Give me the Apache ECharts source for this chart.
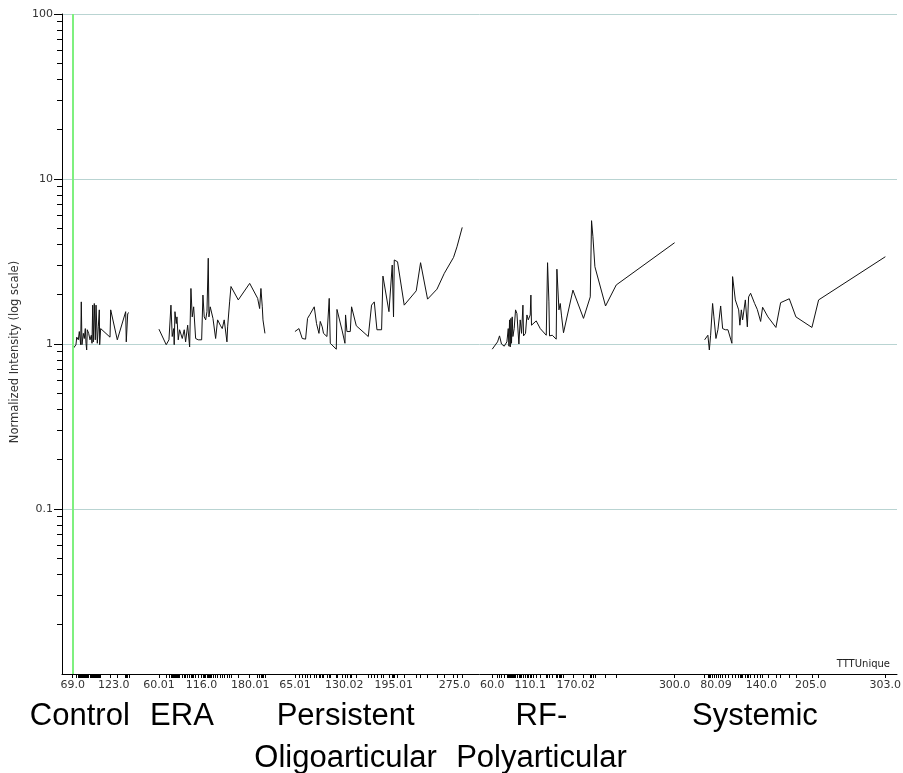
<!DOCTYPE html>
<html><head><meta charset="utf-8">
<script src="https://cdn.jsdelivr.net/npm/echarts@6/dist/echarts.min.js"></script>
<style>html,body{margin:0;padding:0;background:#fff}#c{width:903px;height:773px}</style>
</head><body><div id="c"></div>
<script>
// ---------------- data ----------------
const groupNames = ['Control', 'ERA', 'Persistent\nOligoarticular', 'RF-\nPolyarticular', 'Systemic'];

const ctrlX = [69.0, 73.3, 74.3, 76.4, 77.7, 79.5, 80.3, 81.2, 83.0, 84.3, 85.6, 86.5, 87.4, 88.2, 90.0, 91.8, 93.5, 94.4, 95.3, 96.1, 97.4, 98.7, 99.7, 101.4, 102.7, 104.0, 104.5, 105.8, 118.1, 119.0, 127.7, 138.7, 139.5, 141.4, 143.0];
const ctrlY = [0.93, 0.99, 1.10, 1.06, 1.19, 0.99, 1.80, 0.99, 1.16, 1.08, 1.24, 1.01, 0.92, 1.22, 1.16, 1.06, 1.13, 1.01, 1.72, 1.03, 1.76, 1.06, 1.72, 1.01, 1.27, 1.61, 0.99, 1.24, 1.10, 1.61, 1.06, 1.57, 1.03, 1.53, 1.55];

const eraX = [60.01, 69.6, 73.2, 75.8, 77.5, 79.4, 80.1, 81.1, 82.8, 83.7, 85.4, 87.2, 90.7, 93.3, 95.1, 97.8, 100.4, 102.1, 103.8, 105.7, 108.3, 111.7, 116.2, 117.9, 119.6, 121.5, 123.2, 124.9, 125.8, 127.5, 129.4, 131.1, 134.6, 137.2, 140.7, 143.3, 145.9, 149.5, 150.4, 153.0, 154.8, 164.4, 179.4, 189.9, 192.5, 194.2, 196.0, 196.9, 199.5];
const eraY = [1.23, 0.99, 1.06, 1.72, 1.11, 1.24, 0.99, 1.57, 1.33, 1.46, 1.06, 1.22, 1.08, 1.22, 1.03, 1.30, 0.96, 2.17, 1.46, 1.68, 1.08, 1.06, 1.06, 1.98, 1.46, 1.40, 1.57, 3.31, 1.46, 1.68, 1.72, 1.43, 1.08, 1.40, 1.30, 1.24, 1.40, 1.03, 1.27, 1.80, 2.23, 1.85, 2.33, 1.89, 1.64, 2.17, 1.68, 1.40, 1.16];

const persX = [65.01, 70.3, 74.6, 79.0, 81.6, 84.7, 90.4, 93.4, 96.6, 98.3, 100.9, 102.6, 107.1, 110.1, 111.5, 119.4, 120.3, 127.2, 130.8, 131.6, 133.4, 137.8, 139.5, 145.7, 161.5, 165.8, 169.4, 172.9, 179.0, 180.8, 188.7, 193.0, 194.7, 195.7, 200.0, 208.8, 224.6, 230.3, 239.5, 251.9, 261.5, 273.7, 278.2, 285.1];
const persY = [1.19, 1.24, 1.08, 1.07, 1.43, 1.51, 1.68, 1.33, 1.16, 1.37, 1.27, 1.16, 1.11, 1.89, 1.01, 0.93, 1.62, 1.20, 1.01, 1.50, 1.19, 1.19, 1.68, 1.29, 1.11, 1.72, 1.80, 1.22, 1.22, 2.58, 1.57, 3.01, 1.46, 3.23, 3.15, 1.72, 2.10, 3.11, 1.87, 2.15, 2.68, 3.35, 3.88, 5.09];

const rfX = [60.0, 67.0, 69.6, 72.2, 75.8, 79.3, 81.1, 82.0, 82.8, 83.7, 84.6, 85.4, 86.3, 87.2, 88.9, 90.7, 92.5, 95.1, 96.8, 98.6, 100.4, 101.2, 103.8, 105.7, 107.4, 110.0, 110.9, 111.7, 114.3, 117.9, 123.2, 131.1, 132.8, 134.6, 135.4, 139.0, 144.2, 145.1, 147.8, 149.5, 151.2, 153.8, 166.2, 180.1, 189.0, 190.7, 192.5, 195.1, 209.1, 223.2, 300.0];
const rfY = [0.93, 1.03, 1.12, 1.00, 0.97, 1.03, 1.24, 0.97, 1.40, 0.96, 1.43, 1.01, 1.46, 1.11, 1.24, 1.61, 1.53, 1.00, 1.40, 1.16, 1.72, 1.12, 1.16, 1.50, 1.40, 1.50, 1.98, 1.30, 1.32, 1.38, 1.24, 1.13, 3.11, 1.80, 1.12, 1.13, 1.07, 2.84, 1.61, 1.76, 1.48, 1.17, 2.12, 1.43, 1.93, 5.59, 4.47, 2.94, 1.70, 2.28, 4.11];

const sysX = [65.2, 69.5, 71.4, 73.1, 75.7, 77.4, 80.1, 82.7, 86.3, 88.9, 92.4, 95.9, 101.1, 102.0, 105.6, 110.0, 111.6, 113.5, 115.2, 118.8, 121.4, 123.1, 125.7, 131.0, 134.5, 138.9, 141.5, 148.5, 159.0, 165.2, 176.6, 185.3, 206.4, 215.2, 303.0];
const sysY = [1.06, 1.13, 0.92, 1.13, 1.76, 1.46, 1.08, 1.22, 1.70, 1.24, 1.22, 1.22, 1.01, 2.56, 1.85, 1.61, 1.30, 1.61, 1.40, 1.85, 1.27, 1.93, 2.03, 1.76, 1.62, 1.37, 1.67, 1.46, 1.26, 1.78, 1.88, 1.46, 1.26, 1.85, 3.38];

const ctrlTicks = ['69.0', '123.0'];
const eraTicks = ['60.01', '116.0', '180.01'];
const persTicks = ['65.01', '130.02', '195.01', '275.0'];
const rfTicks = ['60.0', '110.1', '170.02', '300.0'];
const sysTicks = ['80.09', '140.0', '205.0', '303.0'];

const yMinorTicks = [0.02, 0.03, 0.04, 0.05, 0.06, 0.07, 0.08, 0.09, 0.2, 0.3, 0.4, 0.5, 0.6, 0.7, 0.8, 0.9, 2, 3, 4, 5, 6, 7, 8, 9, 20, 30, 40, 50, 60, 70, 80, 90];
const markerX = 69.0;

// ---------------- layout ----------------
const groups = [
  {x: ctrlX, y: ctrlY, ticks: ctrlTicks, shift: -21},
  {x: eraX, y: eraY, ticks: eraTicks, shift: -30},
  {x: persX, y: persY, ticks: persTicks, shift: -33},
  {x: rfX, y: rfY, ticks: rfTicks, shift: -42},
  {x: sysX, y: sysY, ticks: sysTicks, shift: -40}
];
const TOP = 14, BOTTOM = 99, AXIS_LEFT = 62, AXIS_RIGHT = 6;
const PX = 0.76, START = 72.7, GAP = 30;
const FONT = 'DejaVu Sans';

const grids = [{left: AXIS_LEFT, right: AXIS_RIGHT, top: TOP, bottom: BOTTOM, containLabel: false, outerBoundsMode: 'none'}];
const xAxes = [{
  gridIndex: 0, type: 'value', min: 0, max: 1,
  axisLine: {show: true, lineStyle: {color: '#000', width: 1}},
  axisTick: {show: false}, axisLabel: {show: false}, splitLine: {show: false}
}];
const yAxes = [{
  gridIndex: 0, type: 'log', logBase: 10, min: 0.01, max: 100, position: 'left',
  name: 'Normalized Intensity (log scale)', nameLocation: 'middle', nameGap: 37,
  nameTextStyle: {fontFamily: FONT, fontSize: 11.5, color: '#333', padding: [0, 16, 0, 0]},
  axisLine: {show: true, lineStyle: {color: '#000', width: 1}},
  axisTick: {show: true, length: 8, lineStyle: {color: '#000'}},
  axisLabel: {show: true, showMinLabel: false, margin: 9, fontFamily: FONT, fontSize: 11, color: '#333',
    formatter: v => String(+v.toPrecision(6))},
  splitLine: {show: true, lineStyle: {color: '#b9d4d2', width: 1}}
}, {
  gridIndex: 0, type: 'log', logBase: 10, min: 0.01, max: 100, position: 'left', offset: 0,
  axisLine: {show: false},
  axisTick: {show: true, length: 5, customValues: yMinorTicks, lineStyle: {color: '#000'}},
  axisLabel: {show: false}, splitLine: {show: false}
}];
const series = [];

let left = START;
groups.forEach((g, i) => {
  const xmin = g.x[0], xmax = g.x[g.x.length - 1];
  const width = (xmax - xmin) * PX;
  grids.push({left: left, width: width, top: TOP, bottom: BOTTOM, containLabel: false, outerBoundsMode: 'none'});
  left += width + GAP;
  const tickVals = g.ticks.map(Number);
  const pad = Math.abs(g.shift) * 2;
  xAxes.push({
    gridIndex: i + 1, type: 'value', min: xmin, max: xmax,
    name: groupNames[i], nameLocation: 'middle', nameGap: 17,
    nameTextStyle: {fontFamily: 'Liberation Sans', fontSize: 31, color: '#000', lineHeight: 42,
      padding: g.shift < 0 ? [0, pad, 0, 0] : [0, 0, 0, pad]},
    axisLine: {show: false},
    axisTick: {show: true, length: 4, customValues: g.x, lineStyle: {color: '#000', width: 1}},
    axisLabel: {show: true, customValues: tickVals, margin: 6, fontFamily: FONT, fontSize: 11, color: '#333',
      formatter: v => {
        const s = g.ticks.find(t => Math.abs(Number(t) - v) < 1e-6);
        return s !== undefined ? s : '';
      }},
    splitLine: {show: false}
  });
  yAxes.push({gridIndex: i + 1, type: 'log', logBase: 10, min: 0.01, max: 100, show: false});
  const s = {
    type: 'line', xAxisIndex: i + 1, yAxisIndex: i + 2,
    data: g.x.map((xv, k) => [xv, g.y[k]]),
    showSymbol: false, symbol: 'none',
    lineStyle: {color: '#111', width: 1}, animation: false, silent: true
  };
  if (i === 0) {
    s.markLine = {
      symbol: 'none', silent: true, animation: false,
      label: {show: false},
      lineStyle: {color: '#7ff07f', width: 2, type: 'solid'},
      data: [{xAxis: markerX}]
    };
  }
  series.push(s);
});

const chart = echarts.init(document.getElementById('c'), null, {renderer: 'canvas'});
chart.setOption({
  backgroundColor: '#fff',
  animation: false,
  title: {text: 'TTTUnique', right: 13, top: 659, padding: 0,
    textStyle: {fontFamily: FONT, fontSize: 10, fontWeight: 'normal', color: '#222'}},
  grid: grids,
  xAxis: xAxes,
  yAxis: yAxes,
  series: series
});
</script>
</body></html>
